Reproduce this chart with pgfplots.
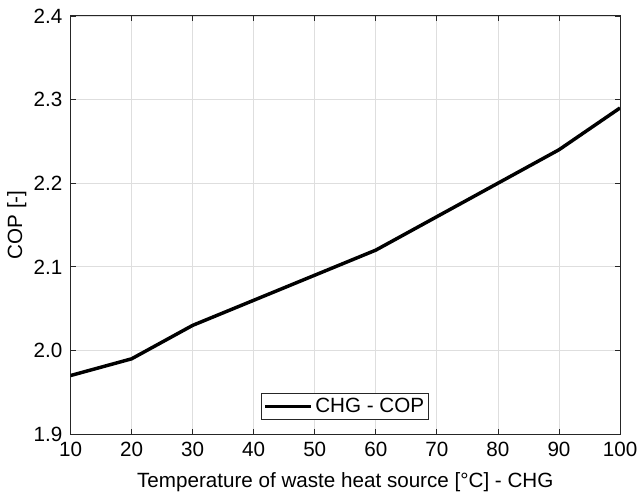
\documentclass[border=0pt]{standalone}
\usepackage{pgfplots}
\pgfplotsset{compat=1.18}
\usepackage{fontspec}
\setmainfont{Liberation Sans}
\definecolor{axgray}{RGB}{38,38,38}
\definecolor{gridgray}{RGB}{222,222,222}
\begin{document}
\fontsize{15}{18}\selectfont
\begin{tikzpicture}
\path[use as bounding box] (-53pt,-47.25pt) rectangle (428pt,326.25pt);
\begin{axis}[
  at={(0,0)}, anchor=south west,
  scale only axis,
  width=413pt, height=314.25pt,
  xmin=10, xmax=100, ymin=1.9, ymax=2.4,
  xtick={10,20,...,100},
  ytick={1.9,2.0,2.1,2.2,2.3,2.4},
  /pgf/number format/assume math mode=true,
  yticklabel style={/pgf/number format/fixed, /pgf/number format/fixed zerofill, /pgf/number format/precision=1, xshift=-1pt},
  xticklabel style={/pgf/number format/fixed, yshift=-1pt},
  tick align=inside,
  tick style={axgray, line width=0.6pt},
  major tick length=4pt,
  axis line style={axgray, line width=0.75pt},
  grid=major,
  major grid style={gridgray, line width=0.6pt},
  xlabel={Temperature of waste heat source [°C] - CHG},
  ylabel={COP [-]},
  xlabel style={at={(axis description cs:0.5,-0.1146)}, anchor=center},
  ylabel style={at={(axis description cs:-0.0978,0.5)}, anchor=center},
  ticklabel style={font=\fontsize{15.5}{18}\selectfont},
  label style={font=\fontsize{15.5}{18}\selectfont},
  legend style={at={(0.5,0.0334)}, anchor=south, draw=axgray, line width=0.6pt, font=\fontsize{15.5}{18}\selectfont, inner sep=1.5pt},
  legend cell align=left,
  legend image code/.code={\draw[#1] (0cm,0cm) -- (1.2cm,0cm);},
]
\addplot[black, line width=2.6pt] coordinates {
(10,1.97) (20,1.99) (30,2.03) (40,2.06) (50,2.09) (60,2.12) (70,2.16) (80,2.20) (90,2.24) (100,2.29)
};
\addlegendentry{CHG - COP}
\end{axis}
\end{tikzpicture}
\end{document}
